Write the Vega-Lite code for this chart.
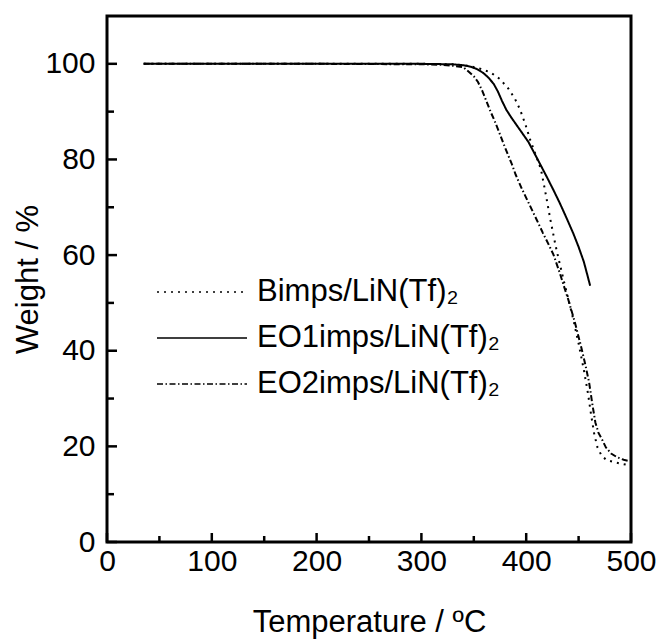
{
  "$schema": "https://vega.github.io/schema/vega-lite/v6.json",
  "width": 524,
  "height": 526,
  "autosize": {"type": "none"},
  "padding": {"left": 107, "top": 16, "right": 28, "bottom": 98},
  "background": "white",
  "config": {
    "font": "Liberation Sans",
    "view": {"stroke": "black", "strokeWidth": 3},
    "axis": {
      "domain": false,
      "grid": false,
      "ticks": false,
      "labelColor": "black",
      "titleColor": "black",
      "labelFont": "Liberation Sans",
      "titleFont": "Liberation Sans",
      "labelFontSize": 30,
      "titleFontSize": 31,
      "titleFontWeight": "normal",
      "labelFlush": false,
      "labelOverlap": false
    },
    "axisX": {"labelPadding": 4, "titlePadding": 31},
    "axisY": {"labelPadding": 12, "titlePadding": 0}
  },
  "datasets": {
    "curves": [
      {"sample": "Bimps/LiN(Tf)₂", "t": 35, "w": 100},
      {"sample": "Bimps/LiN(Tf)₂", "t": 100, "w": 100},
      {"sample": "Bimps/LiN(Tf)₂", "t": 200, "w": 100},
      {"sample": "Bimps/LiN(Tf)₂", "t": 300, "w": 100},
      {"sample": "Bimps/LiN(Tf)₂", "t": 330, "w": 99.9},
      {"sample": "Bimps/LiN(Tf)₂", "t": 345, "w": 99.6},
      {"sample": "Bimps/LiN(Tf)₂", "t": 356, "w": 99.0},
      {"sample": "Bimps/LiN(Tf)₂", "t": 366, "w": 98.2},
      {"sample": "Bimps/LiN(Tf)₂", "t": 375, "w": 96.8},
      {"sample": "Bimps/LiN(Tf)₂", "t": 383, "w": 94.8},
      {"sample": "Bimps/LiN(Tf)₂", "t": 389, "w": 92.8},
      {"sample": "Bimps/LiN(Tf)₂", "t": 394, "w": 90.5},
      {"sample": "Bimps/LiN(Tf)₂", "t": 399, "w": 87.5},
      {"sample": "Bimps/LiN(Tf)₂", "t": 404, "w": 84.0},
      {"sample": "Bimps/LiN(Tf)₂", "t": 409, "w": 81.0},
      {"sample": "Bimps/LiN(Tf)₂", "t": 414, "w": 78.0},
      {"sample": "Bimps/LiN(Tf)₂", "t": 418, "w": 73.5},
      {"sample": "Bimps/LiN(Tf)₂", "t": 423, "w": 67.5},
      {"sample": "Bimps/LiN(Tf)₂", "t": 428, "w": 62.0},
      {"sample": "Bimps/LiN(Tf)₂", "t": 432, "w": 58.2},
      {"sample": "Bimps/LiN(Tf)₂", "t": 436, "w": 54.5},
      {"sample": "Bimps/LiN(Tf)₂", "t": 440, "w": 51.0},
      {"sample": "Bimps/LiN(Tf)₂", "t": 445, "w": 46.5},
      {"sample": "Bimps/LiN(Tf)₂", "t": 450, "w": 41.5},
      {"sample": "Bimps/LiN(Tf)₂", "t": 455, "w": 36.0},
      {"sample": "Bimps/LiN(Tf)₂", "t": 459, "w": 31.0},
      {"sample": "Bimps/LiN(Tf)₂", "t": 462, "w": 26.5},
      {"sample": "Bimps/LiN(Tf)₂", "t": 465, "w": 22.5},
      {"sample": "Bimps/LiN(Tf)₂", "t": 468, "w": 19.8},
      {"sample": "Bimps/LiN(Tf)₂", "t": 472, "w": 18.0},
      {"sample": "Bimps/LiN(Tf)₂", "t": 477, "w": 17.1},
      {"sample": "Bimps/LiN(Tf)₂", "t": 484, "w": 16.7},
      {"sample": "Bimps/LiN(Tf)₂", "t": 490, "w": 16.4},
      {"sample": "Bimps/LiN(Tf)₂", "t": 497, "w": 16.1},
      {"sample": "EO1imps/LiN(Tf)₂", "t": 35, "w": 100},
      {"sample": "EO1imps/LiN(Tf)₂", "t": 100, "w": 100},
      {"sample": "EO1imps/LiN(Tf)₂", "t": 200, "w": 100},
      {"sample": "EO1imps/LiN(Tf)₂", "t": 300, "w": 100},
      {"sample": "EO1imps/LiN(Tf)₂", "t": 330, "w": 99.9},
      {"sample": "EO1imps/LiN(Tf)₂", "t": 340, "w": 99.7},
      {"sample": "EO1imps/LiN(Tf)₂", "t": 347, "w": 99.4},
      {"sample": "EO1imps/LiN(Tf)₂", "t": 353, "w": 98.9},
      {"sample": "EO1imps/LiN(Tf)₂", "t": 359, "w": 98.1},
      {"sample": "EO1imps/LiN(Tf)₂", "t": 364, "w": 97.1},
      {"sample": "EO1imps/LiN(Tf)₂", "t": 369, "w": 95.8},
      {"sample": "EO1imps/LiN(Tf)₂", "t": 373, "w": 94.2},
      {"sample": "EO1imps/LiN(Tf)₂", "t": 377, "w": 92.2},
      {"sample": "EO1imps/LiN(Tf)₂", "t": 381, "w": 90.4},
      {"sample": "EO1imps/LiN(Tf)₂", "t": 386, "w": 88.7},
      {"sample": "EO1imps/LiN(Tf)₂", "t": 394, "w": 86.2},
      {"sample": "EO1imps/LiN(Tf)₂", "t": 402, "w": 83.7},
      {"sample": "EO1imps/LiN(Tf)₂", "t": 410, "w": 80.4},
      {"sample": "EO1imps/LiN(Tf)₂", "t": 415, "w": 78.3},
      {"sample": "EO1imps/LiN(Tf)₂", "t": 420, "w": 76.2},
      {"sample": "EO1imps/LiN(Tf)₂", "t": 426, "w": 73.6},
      {"sample": "EO1imps/LiN(Tf)₂", "t": 432, "w": 70.9},
      {"sample": "EO1imps/LiN(Tf)₂", "t": 438, "w": 68.0},
      {"sample": "EO1imps/LiN(Tf)₂", "t": 445, "w": 64.5},
      {"sample": "EO1imps/LiN(Tf)₂", "t": 450, "w": 61.7},
      {"sample": "EO1imps/LiN(Tf)₂", "t": 455, "w": 58.6},
      {"sample": "EO1imps/LiN(Tf)₂", "t": 459, "w": 55.3},
      {"sample": "EO1imps/LiN(Tf)₂", "t": 461, "w": 53.6},
      {"sample": "EO2imps/LiN(Tf)₂", "t": 35, "w": 100},
      {"sample": "EO2imps/LiN(Tf)₂", "t": 100, "w": 100},
      {"sample": "EO2imps/LiN(Tf)₂", "t": 200, "w": 100},
      {"sample": "EO2imps/LiN(Tf)₂", "t": 300, "w": 99.9},
      {"sample": "EO2imps/LiN(Tf)₂", "t": 320, "w": 99.8},
      {"sample": "EO2imps/LiN(Tf)₂", "t": 330, "w": 99.6},
      {"sample": "EO2imps/LiN(Tf)₂", "t": 340, "w": 99.3},
      {"sample": "EO2imps/LiN(Tf)₂", "t": 346, "w": 98.2},
      {"sample": "EO2imps/LiN(Tf)₂", "t": 350, "w": 97.4},
      {"sample": "EO2imps/LiN(Tf)₂", "t": 354, "w": 96.2},
      {"sample": "EO2imps/LiN(Tf)₂", "t": 358, "w": 94.4},
      {"sample": "EO2imps/LiN(Tf)₂", "t": 362, "w": 92.2},
      {"sample": "EO2imps/LiN(Tf)₂", "t": 366, "w": 90.0},
      {"sample": "EO2imps/LiN(Tf)₂", "t": 370, "w": 88.0},
      {"sample": "EO2imps/LiN(Tf)₂", "t": 374, "w": 85.8},
      {"sample": "EO2imps/LiN(Tf)₂", "t": 378, "w": 83.5},
      {"sample": "EO2imps/LiN(Tf)₂", "t": 382, "w": 81.3},
      {"sample": "EO2imps/LiN(Tf)₂", "t": 386, "w": 79.2},
      {"sample": "EO2imps/LiN(Tf)₂", "t": 390, "w": 76.8},
      {"sample": "EO2imps/LiN(Tf)₂", "t": 396, "w": 73.8},
      {"sample": "EO2imps/LiN(Tf)₂", "t": 403, "w": 70.6},
      {"sample": "EO2imps/LiN(Tf)₂", "t": 410, "w": 67.4},
      {"sample": "EO2imps/LiN(Tf)₂", "t": 416, "w": 64.6},
      {"sample": "EO2imps/LiN(Tf)₂", "t": 421, "w": 62.4},
      {"sample": "EO2imps/LiN(Tf)₂", "t": 426, "w": 60.1},
      {"sample": "EO2imps/LiN(Tf)₂", "t": 432, "w": 56.3},
      {"sample": "EO2imps/LiN(Tf)₂", "t": 436, "w": 53.5},
      {"sample": "EO2imps/LiN(Tf)₂", "t": 440, "w": 50.8},
      {"sample": "EO2imps/LiN(Tf)₂", "t": 446, "w": 46.3},
      {"sample": "EO2imps/LiN(Tf)₂", "t": 452, "w": 41.2},
      {"sample": "EO2imps/LiN(Tf)₂", "t": 456, "w": 37.5},
      {"sample": "EO2imps/LiN(Tf)₂", "t": 460, "w": 33.4},
      {"sample": "EO2imps/LiN(Tf)₂", "t": 463, "w": 29.0},
      {"sample": "EO2imps/LiN(Tf)₂", "t": 466, "w": 25.0},
      {"sample": "EO2imps/LiN(Tf)₂", "t": 469, "w": 22.8},
      {"sample": "EO2imps/LiN(Tf)₂", "t": 472, "w": 21.6},
      {"sample": "EO2imps/LiN(Tf)₂", "t": 476, "w": 19.8},
      {"sample": "EO2imps/LiN(Tf)₂", "t": 481, "w": 18.5},
      {"sample": "EO2imps/LiN(Tf)₂", "t": 487, "w": 17.7},
      {"sample": "EO2imps/LiN(Tf)₂", "t": 493, "w": 17.2},
      {"sample": "EO2imps/LiN(Tf)₂", "t": 497, "w": 17.0}
    ],
    "xticks": [
      {"v": 0, "kind": "major"}, {"v": 50, "kind": "minor"},
      {"v": 100, "kind": "major"}, {"v": 150, "kind": "minor"},
      {"v": 200, "kind": "major"}, {"v": 250, "kind": "minor"},
      {"v": 300, "kind": "major"}, {"v": 350, "kind": "minor"},
      {"v": 400, "kind": "major"}, {"v": 450, "kind": "minor"},
      {"v": 500, "kind": "major"}
    ],
    "yticks": [
      {"v": 0, "kind": "major"}, {"v": 10, "kind": "minor"},
      {"v": 20, "kind": "major"}, {"v": 30, "kind": "minor"},
      {"v": 40, "kind": "major"}, {"v": 50, "kind": "minor"},
      {"v": 60, "kind": "major"}, {"v": 70, "kind": "minor"},
      {"v": 80, "kind": "major"}, {"v": 90, "kind": "minor"},
      {"v": 100, "kind": "major"}
    ]
  },
  "layer": [
    {
      "data": {"name": "curves"},
      "mark": {"type": "line", "color": "black", "strokeWidth": 2},
      "encoding": {
        "x": {
          "field": "t",
          "type": "quantitative",
          "title": "Temperature / ºC",
          "scale": {"domain": [0, 500], "nice": false},
          "axis": {"orient": "bottom", "values": [0, 100, 200, 300, 400, 500]}
        },
        "y": {
          "field": "w",
          "type": "quantitative",
          "title": "Weight / %",
          "scale": {"domain": [0, 110], "nice": false},
          "axis": {"orient": "left", "values": [0, 20, 40, 60, 80, 100]}
        },
        "strokeDash": {
          "field": "sample",
          "type": "nominal",
          "scale": {
            "domain": ["Bimps/LiN(Tf)₂", "EO1imps/LiN(Tf)₂", "EO2imps/LiN(Tf)₂"],
            "range": [[2, 5], [1, 0], [6, 2.5, 1.5, 2.5]]
          },
          "legend": {
            "title": null,
            "orient": "none",
            "legendX": 49,
            "legendY": 253,
            "padding": 0,
            "symbolType": "stroke",
            "symbolSize": 8100,
            "symbolStrokeWidth": 1.5,
            "symbolStrokeColor": "black",
            "labelFontSize": 31,
            "labelFont": "Liberation Sans",
            "labelColor": "black",
            "labelOffset": 9,
            "labelLimit": 0,
            "clipHeight": 46,
            "rowPadding": 0
          }
        }
      }
    },
    {
      "data": {"name": "xticks"},
      "transform": [{"filter": "datum.kind === 'major'"}],
      "mark": {"type": "tick", "orient": "vertical", "color": "black", "opacity": 1, "size": 9, "thickness": 2.5, "yOffset": -4.5},
      "encoding": {
        "x": {"field": "v", "type": "quantitative", "title": "Temperature / ºC", "scale": {"domain": [0, 500], "nice": false}, "axis": {"orient": "bottom", "values": [0, 100, 200, 300, 400, 500]}},
        "y": {"datum": 0, "type": "quantitative", "title": "Weight / %", "scale": {"domain": [0, 110], "nice": false}, "axis": {"orient": "left", "values": [0, 20, 40, 60, 80, 100]}}
      }
    },
    {
      "data": {"name": "xticks"},
      "transform": [{"filter": "datum.kind === 'minor'"}],
      "mark": {"type": "tick", "orient": "vertical", "color": "black", "opacity": 1, "size": 6, "thickness": 2.5, "yOffset": -3},
      "encoding": {
        "x": {"field": "v", "type": "quantitative", "title": "Temperature / ºC", "scale": {"domain": [0, 500], "nice": false}, "axis": {"orient": "bottom", "values": [0, 100, 200, 300, 400, 500]}},
        "y": {"datum": 0, "type": "quantitative", "title": "Weight / %", "scale": {"domain": [0, 110], "nice": false}, "axis": {"orient": "left", "values": [0, 20, 40, 60, 80, 100]}}
      }
    },
    {
      "data": {"name": "yticks"},
      "transform": [{"filter": "datum.kind === 'major'"}],
      "mark": {"type": "tick", "orient": "horizontal", "color": "black", "opacity": 1, "size": 10, "thickness": 2.5, "xOffset": 5},
      "encoding": {
        "x": {"datum": 0, "type": "quantitative", "title": "Temperature / ºC", "scale": {"domain": [0, 500], "nice": false}, "axis": {"orient": "bottom", "values": [0, 100, 200, 300, 400, 500]}},
        "y": {"field": "v", "type": "quantitative", "title": "Weight / %", "scale": {"domain": [0, 110], "nice": false}, "axis": {"orient": "left", "values": [0, 20, 40, 60, 80, 100]}}
      }
    },
    {
      "data": {"name": "yticks"},
      "transform": [{"filter": "datum.kind === 'minor'"}],
      "mark": {"type": "tick", "orient": "horizontal", "color": "black", "opacity": 1, "size": 7, "thickness": 2.5, "xOffset": 3.5},
      "encoding": {
        "x": {"datum": 0, "type": "quantitative", "title": "Temperature / ºC", "scale": {"domain": [0, 500], "nice": false}, "axis": {"orient": "bottom", "values": [0, 100, 200, 300, 400, 500]}},
        "y": {"field": "v", "type": "quantitative", "title": "Weight / %", "scale": {"domain": [0, 110], "nice": false}, "axis": {"orient": "left", "values": [0, 20, 40, 60, 80, 100]}}
      }
    }
  ]
}
